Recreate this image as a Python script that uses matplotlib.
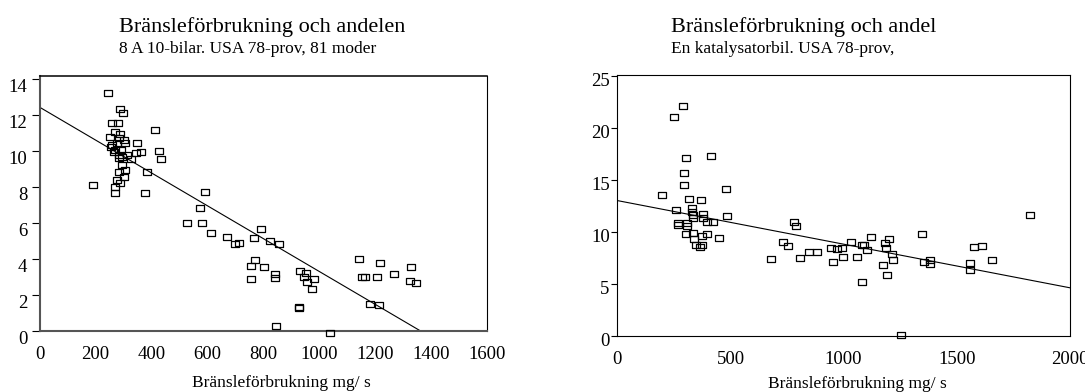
import numpy as np
import matplotlib
matplotlib.use("Agg")
import matplotlib.pyplot as plt
from matplotlib.path import Path
from matplotlib.transforms import ScaledTranslation

plt.rcParams['font.family'] = ['Liberation Serif', 'DejaVu Serif']

# left panel: 8 A 10 cars
left_x = [246, 287, 298, 260, 281, 411, 253, 271, 287, 284, 256, 277, 305, 349,
          425, 433, 265, 290, 284, 312, 345, 361, 327, 284, 296, 305, 284, 384,
          300, 275, 287, 191, 271, 271, 376, 592, 574, 581, 528, 614, 669, 699,
          713, 767, 792, 824, 855, 771, 755, 802, 756, 841, 841, 931, 953, 944,
          956, 983, 975, 926, 926, 845, 1040, 1141, 1153, 1163, 1205, 1219, 1268,
          1327, 1324, 1347, 1182, 1215, 258, 293, 269, 300]
left_y = [13.19, 12.30, 12.07, 11.56, 11.52, 11.15, 10.78, 11.02, 10.91, 10.69,
          10.22, 10.41, 10.45, 10.41, 10.00, 9.52, 9.94, 10.03, 9.76, 9.76, 9.86,
          9.90, 9.52, 9.58, 9.21, 8.93, 8.83, 8.80, 8.56, 8.37, 8.22, 8.09, 7.97,
          7.67, 7.67, 7.71, 6.80, 6.00, 5.96, 5.41, 5.22, 4.82, 4.89, 5.17, 5.65,
          4.98, 4.80, 3.93, 3.59, 3.56, 2.86, 3.13, 2.95, 3.32, 3.22, 3.00, 2.72,
          2.86, 2.32, 1.33, 1.24, 0.28, -0.11, 3.98, 3.00, 3.00, 3.00, 3.74, 3.13,
          3.56, 2.76, 2.67, 1.48, 1.43, 10.32, 9.67, 10.05, 10.60]
left_fit = (12.41, -0.00912)   # intercept, slope

# right panel: catalyst car
right_x = [289, 250, 302, 415, 294, 296, 197, 480, 318, 368, 259, 331, 331, 380,
           486, 269, 269, 309, 309, 336, 336, 377, 395, 424, 303, 333, 373, 397,
           450, 347, 373, 365, 339, 679, 732, 755, 782, 789, 809, 849, 881, 945,
           971, 991, 953, 996, 1034, 1060, 1080, 1090, 1105, 1122, 1082, 1174,
           1184, 1189, 1201, 1212, 1220, 1192, 1255, 1345, 1357, 1384, 1381,
           1558, 1561, 1578, 1613, 1657, 1822]
right_y = [22.13, 21.10, 17.09, 17.31, 15.64, 14.51, 13.55, 14.10, 13.13, 13.07,
           12.10, 12.27, 11.94, 11.72, 11.52, 10.88, 10.66, 10.88, 10.56, 11.36,
           11.62, 11.30, 10.97, 10.92, 9.76, 9.85, 9.59, 9.79, 9.37, 8.73, 8.73,
           8.56, 9.28, 7.35, 8.99, 8.66, 10.92, 10.56, 7.50, 8.08, 8.08, 8.41,
           8.31, 8.41, 7.06, 7.54, 9.05, 7.60, 8.73, 8.73, 8.25, 9.53, 5.19, 6.80,
           8.95, 8.41, 9.31, 7.83, 7.28, 5.83, 0.05, 9.76, 7.06, 7.28, 6.90,
           7.02, 6.32, 8.50, 8.63, 7.28, 11.62]
right_fit = (13.0, -0.0042)

left_titles = ("Bränsleförbrukning och andelen", "8 A 10-bilar. USA 78-prov, 81 moder")
right_titles = ("Bränsleförbrukning och andel", "En katalysatorbil. USA 78-prov,")
xlabel = "Bränsleförbrukning mg/ s"


def box_marker(aspect):
    h = aspect
    verts = [(-1, -h), (1, -h), (1, h), (-1, h), (-1, -h)]
    codes = [Path.MOVETO, Path.LINETO, Path.LINETO, Path.LINETO, Path.CLOSEPOLY]
    return Path(verts, codes)


def panel(ax, xs, ys, fit, xmax, ymax, xticks, yticks, marker, ms, ticklen):
    ax.plot(xs, ys, linestyle="none", marker=marker, ms=ms, mfc="none",
            mec="black", mew=0.9, clip_on=False, zorder=3)
    xx = np.array([0, xmax])
    ax.plot(xx, fit[0] + fit[1] * xx, color="black", lw=0.8)
    ax.set_xlim(0, xmax)
    ax.set_ylim(0, ymax)
    ax.set_xticks(xticks)
    ax.set_yticks(yticks)
    ax.tick_params(axis="x", length=0, pad=11, labelsize=13.5)
    ax.tick_params(axis="y", length=ticklen, width=0.8, pad=1, labelsize=13.5)
    for s in ax.spines.values():
        s.set_linewidth(0.8)
    # y labels hang just below their tick marks
    shift = ScaledTranslation(0, 2 / 72, fig.dpi_scale_trans)
    for lab in ax.get_yticklabels():
        lab.set_verticalalignment("top")
        lab.set_transform(lab.get_transform() + shift)


fig = plt.figure(figsize=(10.85, 3.92), dpi=100)

ax1 = fig.add_axes([0.0366, 0.1564, 0.4122, 0.649])
panel(ax1, left_x, left_y, left_fit, 1600, 14.13,
      [0, 200, 400, 600, 800, 1000, 1200, 1400, 1600],
      [0, 2, 4, 6, 8, 10, 12, 14], box_marker(0.9), 5.3, 6)
ax1.tick_params(axis="y", pad=3)
ax1.spines["left"].set_color("#555555")
ax1.spines["left"].set_linewidth(1.5)
ax1.spines["bottom"].set_color("#555555")
ax1.spines["bottom"].set_linewidth(1.5)
ax1.spines["top"].set_linewidth(1.1)

ax2 = fig.add_axes([0.569, 0.1441, 0.417, 0.6646])
panel(ax2, right_x, right_y, right_fit, 2000, 25.1,
      [0, 500, 1000, 1500, 2000], [0, 5, 10, 15, 20, 25],
      box_marker(0.72), 5.6, 4.5)

fig.text(119 / 1085, 1 - 32 / 392, left_titles[0], fontsize=16, va="baseline")
fig.text(119 / 1085, 1 - 53 / 392, left_titles[1], fontsize=12.5, va="baseline")
fig.text(671 / 1085, 1 - 32 / 392, right_titles[0], fontsize=16, va="baseline")
fig.text(671 / 1085, 1 - 53 / 392, right_titles[1], fontsize=12.5, va="baseline")
fig.text(281 / 1085, 1 - 387 / 392, xlabel, fontsize=12.5, ha="center", va="baseline")
fig.text(857 / 1085, 1 - 388 / 392, xlabel, fontsize=12.5, ha="center", va="baseline")

fig.savefig("out.png", dpi=100)
